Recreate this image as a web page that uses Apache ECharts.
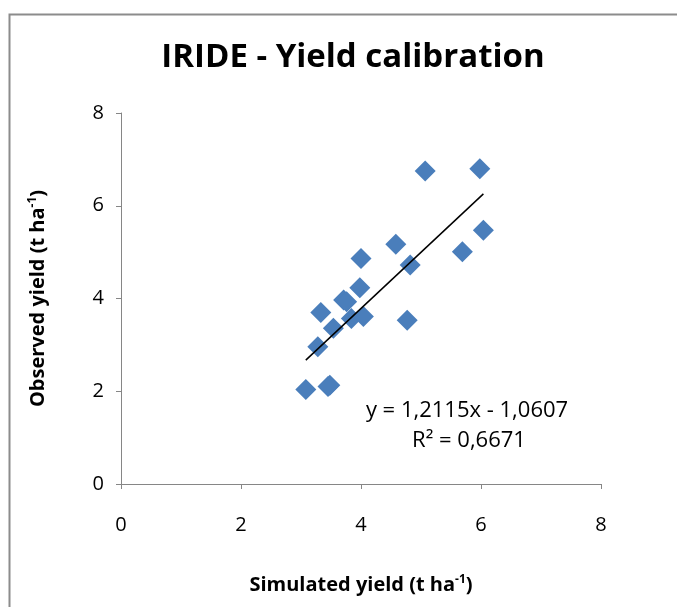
<!DOCTYPE html>
<html>
<head>
<meta charset="utf-8">
<script src="https://cdn.jsdelivr.net/npm/echarts@6/dist/echarts.min.js"></script>
<style>
  html, body { margin: 0; padding: 0; background: #fff; }
  #chart { width: 677px; height: 607px; }
</style>
</head>
<body>
<div id="chart"></div>
<script>
// simulated (x) vs observed (y) yield, t/ha
var simulated = [5.07, 5.98, 6.04, 4.58, 5.69, 4.00, 4.82, 3.98, 3.71, 3.76, 3.33, 3.84, 4.04, 4.77, 3.54, 3.28, 3.08, 3.48, 3.45];
var observed  = [6.75, 6.80, 5.47, 5.17, 5.01, 4.86, 4.72, 4.23, 3.97, 3.93, 3.70, 3.57, 3.61, 3.53, 3.36, 2.96, 2.04, 2.13, 2.10];
var axisTicks = [0, 2, 4, 6, 8];
var slope = 1.2115;
var intercept = -1.0607;
var eqText = 'y = 1,2115x - 1,0607';
var r2Text = 'R² = 0,6671';

var points = simulated.map(function (x, i) { return [x, observed[i]]; });
var xMin = Math.min.apply(null, simulated);
var xMax = Math.max.apply(null, simulated);
var trend = [[xMin, slope * xMin + intercept], [xMax, slope * xMax + intercept]];

var font = '"Open Sans", "Noto Sans", sans-serif';
var chart = echarts.init(document.getElementById('chart'));

var nameRich = {
    a: { fontFamily: font, fontWeight: 'bold', fontSize: 20, color: '#000' },
    s: { fontFamily: font, fontWeight: 'bold', fontSize: 12, color: '#000', verticalAlign: 'top', padding: [0, 0, 10, 0] }
};

var option = {
    animation: false,
    title: {
        text: 'IRIDE - Yield calibration',
        left: 348,
        textAlign: 'center',
        top: 36,
        textStyle: { fontFamily: font, fontWeight: 'bold', fontSize: 33, color: '#000' }
    },
    grid: { left: 121, right: 76, top: 113, bottom: 123 },
    xAxis: {
        type: 'value',
        min: axisTicks[0],
        max: axisTicks[axisTicks.length - 1],
        interval: 2,
        name: '{a|Simulated yield (t ha}{s|-1}{a|)}',
        nameLocation: 'middle',
        nameGap: 90,
        nameTextStyle: { rich: nameRich },
        axisLine: { lineStyle: { color: '#868686', width: 1 } },
        axisTick: { show: true, length: 5, lineStyle: { color: '#868686' } },
        axisLabel: { margin: 31, fontFamily: font, fontSize: 20, color: '#000' },
        splitLine: { show: false }
    },
    yAxis: {
        type: 'value',
        min: axisTicks[0],
        max: axisTicks[axisTicks.length - 1],
        interval: 2,
        name: '{a|Observed yield (t ha}{s|-1}{a|)}',
        nameLocation: 'middle',
        nameGap: 72,
        nameRotate: 90,
        nameTextStyle: { rich: nameRich },
        axisLine: { show: true, lineStyle: { color: '#868686', width: 1 } },
        axisTick: { show: true, length: 5, lineStyle: { color: '#868686' } },
        axisLabel: { margin: 17, fontFamily: font, fontSize: 20, color: '#000' },
        splitLine: { show: false }
    },
    graphic: [
        {
            type: 'rect',
            shape: { x: 9.5, y: 14.5, width: 800, height: 800 },
            style: { fill: 'none', stroke: '#8c8c8c', lineWidth: 2 },
            z: -1
        },
        {
            type: 'text',
            x: 467, y: 411,
            style: { text: eqText, textAlign: 'center', textVerticalAlign: 'middle', font: '22px ' + font, fill: '#000' }
        },
        {
            type: 'text',
            x: 469, y: 441,
            style: { text: r2Text, textAlign: 'center', textVerticalAlign: 'middle', font: '22px ' + font, fill: '#000' }
        }
    ],
    series: [
        {
            type: 'scatter',
            data: points,
            symbol: 'diamond',
            symbolSize: 21,
            itemStyle: { color: '#4a7ebb', opacity: 1 },
            z: 2
        },
        {
            type: 'line',
            data: trend,
            symbol: 'none',
            lineStyle: { color: '#000', width: 1.5 },
            z: 3
        }
    ]
};

chart.setOption(option);
</script>
</body>
</html>
